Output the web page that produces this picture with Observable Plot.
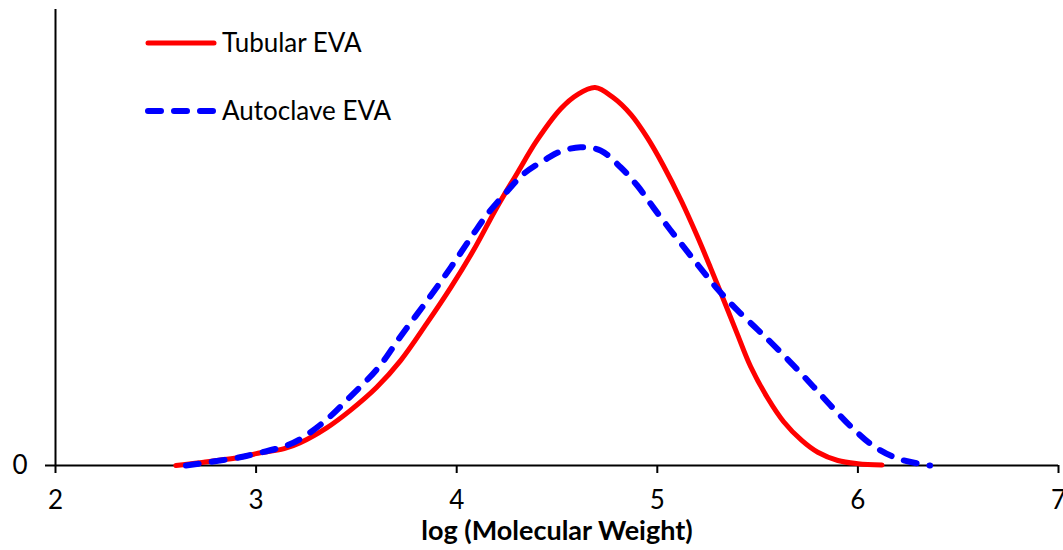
<!DOCTYPE html>
<html>
<head>
<meta charset="utf-8">
<script src="https://cdn.jsdelivr.net/npm/d3@7"></script>
<script src="https://cdn.jsdelivr.net/npm/@observablehq/plot@0.6"></script>
<style>
  html, body { margin: 0; padding: 0; background: #fff; }
  #chart { width: 1063px; height: 550px; }
</style>
</head>
<body>
<div id="chart"></div>
<script>
// Series names
const seriesNames = ["Tubular EVA", "Autoclave EVA"];

// Tubular EVA: log(MW) and relative amount
const tubularX = [2.60, 2.72, 2.92, 3.00, 3.14, 3.22, 3.35, 3.47, 3.60, 3.72, 3.85, 3.97, 4.085, 4.20, 4.30, 4.40, 4.52, 4.60, 4.69, 4.78, 4.87, 4.95, 5.03, 5.12, 5.20, 5.265, 5.34, 5.40, 5.465, 5.55, 5.63, 5.72, 5.80, 5.90, 6.00, 6.12];
const tubularY = [0.0, 0.6, 1.8, 2.6, 3.7, 5.0, 8.2, 12.1, 17.1, 23.0, 31.1, 39.0, 47.3, 56.6, 64.0, 71.3, 78.3, 81.3, 82.9, 80.7, 76.9, 71.9, 65.8, 58.0, 50.2, 43.4, 35.3, 28.7, 21.7, 14.8, 9.6, 5.5, 2.9, 1.1, 0.4, 0.1];

// Autoclave EVA
const autoclaveX = [2.65, 2.92, 3.00, 3.14, 3.22, 3.35, 3.47, 3.61, 3.72, 3.85, 3.97, 4.085, 4.16, 4.255, 4.335, 4.45, 4.52, 4.617, 4.717, 4.817, 4.90, 4.98, 5.066, 5.15, 5.215, 5.30, 5.40, 5.50, 5.58, 5.68, 5.78, 5.88, 5.98, 6.08, 6.20, 6.33, 6.36];
const autoclaveY = [0.0, 1.8, 2.6, 4.2, 5.8, 10.0, 15.1, 21.5, 28.3, 36.0, 43.4, 50.9, 55.5, 60.3, 64.0, 67.3, 68.9, 69.8, 69.1, 65.4, 61.4, 56.6, 51.6, 46.9, 43.3, 38.7, 34.0, 29.8, 26.4, 21.9, 17.2, 12.4, 7.9, 4.2, 1.5, 0.2, 0.0];

// Axis ticks / labels
const xTicks = [2, 3, 4, 5, 6, 7];
const yTicks = [0];
const xLabel = "log (Molecular Weight)";

const tubular = tubularX.map((x, i) => ({x, y: tubularY[i]}));
const autoclave = autoclaveX.map((x, i) => ({x, y: autoclaveY[i]}));

const FONT = "Lato, 'Open Sans', sans-serif";

const chart = Plot.plot({
  width: 1063,
  height: 550,
  marginLeft: 55,
  marginRight: 5,
  marginTop: 9,
  marginBottom: 85,
  style: { fontFamily: FONT, fontSize: "26px", color: "#000", background: "#fff", overflow: "visible" },
  x: { domain: [2, 7] },
  y: { domain: [0, 100] },
  marks: [
    Plot.ruleX([2], { y1: 0, y2: 100, stroke: "#000", strokeWidth: 2 }),
    Plot.ruleY([0], { stroke: "#000", strokeWidth: 2 }),
    Plot.axisX({ ticks: xTicks, tickSize: 8, tickPadding: 17, tickFormat: d => String(d), label: null, stroke: "#000", strokeWidth: 2, fontSize: 26 }),
    Plot.axisY({ ticks: yTicks, tickSize: 10, tickPadding: 18, tickFormat: d => String(d), label: null, stroke: "#000", strokeWidth: 2, fontSize: 26 }),
    Plot.line(tubular, { x: "x", y: "y", stroke: "#ff0000", strokeWidth: 5, curve: "catmull-rom" }),
    Plot.line(autoclave, { x: "x", y: "y", stroke: "#0000ff", strokeWidth: 6, strokeDasharray: "13,13", strokeLinecap: "round", curve: "catmull-rom" }),
    Plot.text([xLabel], { frameAnchor: "bottom", dy: 66, lineAnchor: "middle", fontWeight: "bold", fontSize: 27, fill: "#000" })
  ]
});

document.getElementById("chart").appendChild(chart);

// Legend drawn inside the SVG (top-left of plot area)
const svg = d3.select(chart);
const legend = svg.append("g")
  .attr("font-family", FONT)
  .attr("font-size", 26)
  .attr("text-anchor", "start");
const legendItems = [
  { name: seriesNames[0], color: "#ff0000", dash: null, width: 5 },
  { name: seriesNames[1], color: "#0000ff", dash: "13,13", width: 6 }
];
legendItems.forEach((d, i) => {
  const y = i === 0 ? 43 : 111;
  legend.append("line")
    .attr("x1", 148).attr("x2", 214).attr("y1", y).attr("y2", y)
    .attr("stroke", d.color).attr("stroke-width", d.width)
    .attr("stroke-linecap", "round")
    .attr("stroke-dasharray", d.dash);
  legend.append("text")
    .attr("x", 222).attr("y", y).attr("dy", "0.35em")
    .attr("fill", "#000")
    .attr("text-anchor", "start")
    .text(d.name);
});
</script>
</body>
</html>
